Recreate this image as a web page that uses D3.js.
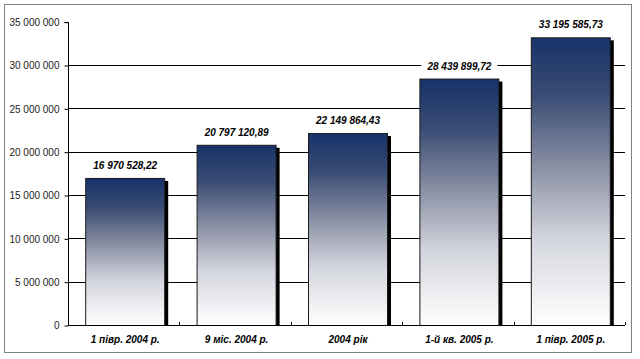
<!DOCTYPE html>
<html><head><meta charset="utf-8">
<script src="https://cdn.jsdelivr.net/npm/d3@7"></script>
<style>body{margin:0;background:#fff}svg{display:block}</style>
</head><body>
<script>
const categories = ["1 півр. 2004 р.", "9 міс. 2004 р.", "2004 рік", "1-й кв. 2005 р.", "1 півр. 2005 р."];
const values = [16970528.22, 20797120.89, 22149864.43, 28439899.72, 33195585.73];
const valueLabels = ["16 970 528,22", "20 797 120,89", "22 149 864,43", "28 439 899,72", "33 195 585,73"];
const yTicks = [0, 5000000, 10000000, 15000000, 20000000, 25000000, 30000000, 35000000];

const W = 640, H = 359;
const svg = d3.select("body").append("svg").attr("width", W).attr("height", H);
const defs = svg.append("defs");
const g = defs.append("linearGradient").attr("id", "grad").attr("x1", 0).attr("y1", 0).attr("x2", 0).attr("y2", 1);
g.append("stop").attr("offset", "0%").attr("stop-color", "#17336a");
g.append("stop").attr("offset", "20%").attr("stop-color", "#3a4c74");
g.append("stop").attr("offset", "45%").attr("stop-color", "#8a90a4");
g.append("stop").attr("offset", "70%").attr("stop-color", "#d4d6de");
g.append("stop").attr("offset", "100%").attr("stop-color", "#ffffff");

// outer border
svg.append("rect").attr("x", 4.5).attr("y", 4.5).attr("width", 627).attr("height", 348)
  .attr("fill", "#fff").attr("stroke", "#808080").attr("stroke-width", 1);

const x0 = 68, x1 = 625, yTop = 21.7, yBot = 325;
const y = d3.scaleLinear().domain([0, 35000000]).range([yBot, yTop]);
const x = d3.scaleBand().domain(categories).range([x0, x1]).paddingInner(0).paddingOuter(0);

// gridlines
svg.append("g").selectAll("line").data(yTicks.filter(d => d > 0 && d < 35000000)).join("line")
  .attr("x1", x0).attr("x2", x1).attr("y1", d => Math.round(y(d)) + 0.5).attr("y2", d => Math.round(y(d)) + 0.5)
  .attr("stroke", "#000").attr("stroke-width", 1);

// y axis
const yAxis = d3.axisLeft(y).tickValues(yTicks).tickSize(4).tickPadding(5)
  .tickFormat(d => d3.format(",")(d).replace(/,/g, " "));
const ya = svg.append("g").attr("transform", `translate(${x0 + 0.5},0.5)`).call(yAxis);
ya.select(".domain").attr("stroke", "#000").attr("d", `M-4,${Math.round(yTop)}H0V${yBot}`);
ya.selectAll(".tick line").attr("stroke", "#000");
ya.selectAll("text").attr("font-family", "Liberation Sans, Arial, sans-serif").attr("font-size", 10).attr("fill", "#222");

const bw = 80, off = 17.2;
// shadows
svg.append("g").selectAll("rect").data(values).join("rect")
  .attr("x", (d, i) => x(categories[i]) + off + bw - 1)
  .attr("y", d => y(d) + 3)
  .attr("width", 4)
  .attr("height", d => yBot - y(d) - 3)
  .attr("fill", "#000");
// bars
svg.append("g").selectAll("rect").data(values).join("rect")
  .attr("x", (d, i) => x(categories[i]) + off + 0.5)
  .attr("y", d => y(d) + 0.5)
  .attr("width", bw - 1)
  .attr("height", d => yBot - y(d))
  .attr("fill", "url(#grad)").attr("stroke", "#1a1a1a").attr("stroke-width", 1);

// x axis
svg.append("line").attr("x1", x0).attr("x2", x1).attr("y1", yBot + 0.5).attr("y2", yBot + 0.5).attr("stroke", "#000");
svg.append("g").selectAll("line").data(d3.range(categories.length + 1)).join("line")
  .attr("x1", i => Math.round(x0 + i * x.bandwidth()) + 0.5).attr("x2", i => Math.round(x0 + i * x.bandwidth()) + 0.5)
  .attr("y1", yBot - 3).attr("y2", yBot).attr("stroke", "#000");

svg.append("g").selectAll("text").data(categories).join("text")
  .attr("x", d => x(d) + off + bw / 2).attr("y", 343)
  .attr("text-anchor", "middle")
  .attr("font-family", "Liberation Sans, Arial, sans-serif").attr("font-size", 10)
  .attr("font-weight", "bold").attr("font-style", "italic").attr("fill", "#000")
  .text(d => d);

// value labels with white background
const lbl = svg.append("g").selectAll("g").data(values).join("g")
  .attr("transform", (d, i) => `translate(${x(categories[i]) + off + bw / 2},${y(d) - 9})`);
lbl.append("rect").attr("x", -38).attr("y", -9).attr("width", 76).attr("height", 12).attr("fill", "#fff");
lbl.append("text").attr("text-anchor", "middle")
  .attr("font-family", "Liberation Sans, Arial, sans-serif").attr("font-size", 10)
  .attr("font-weight", "bold").attr("font-style", "italic").attr("fill", "#000")
  .text((d, i) => valueLabels[i]);
</script>
</body></html>
